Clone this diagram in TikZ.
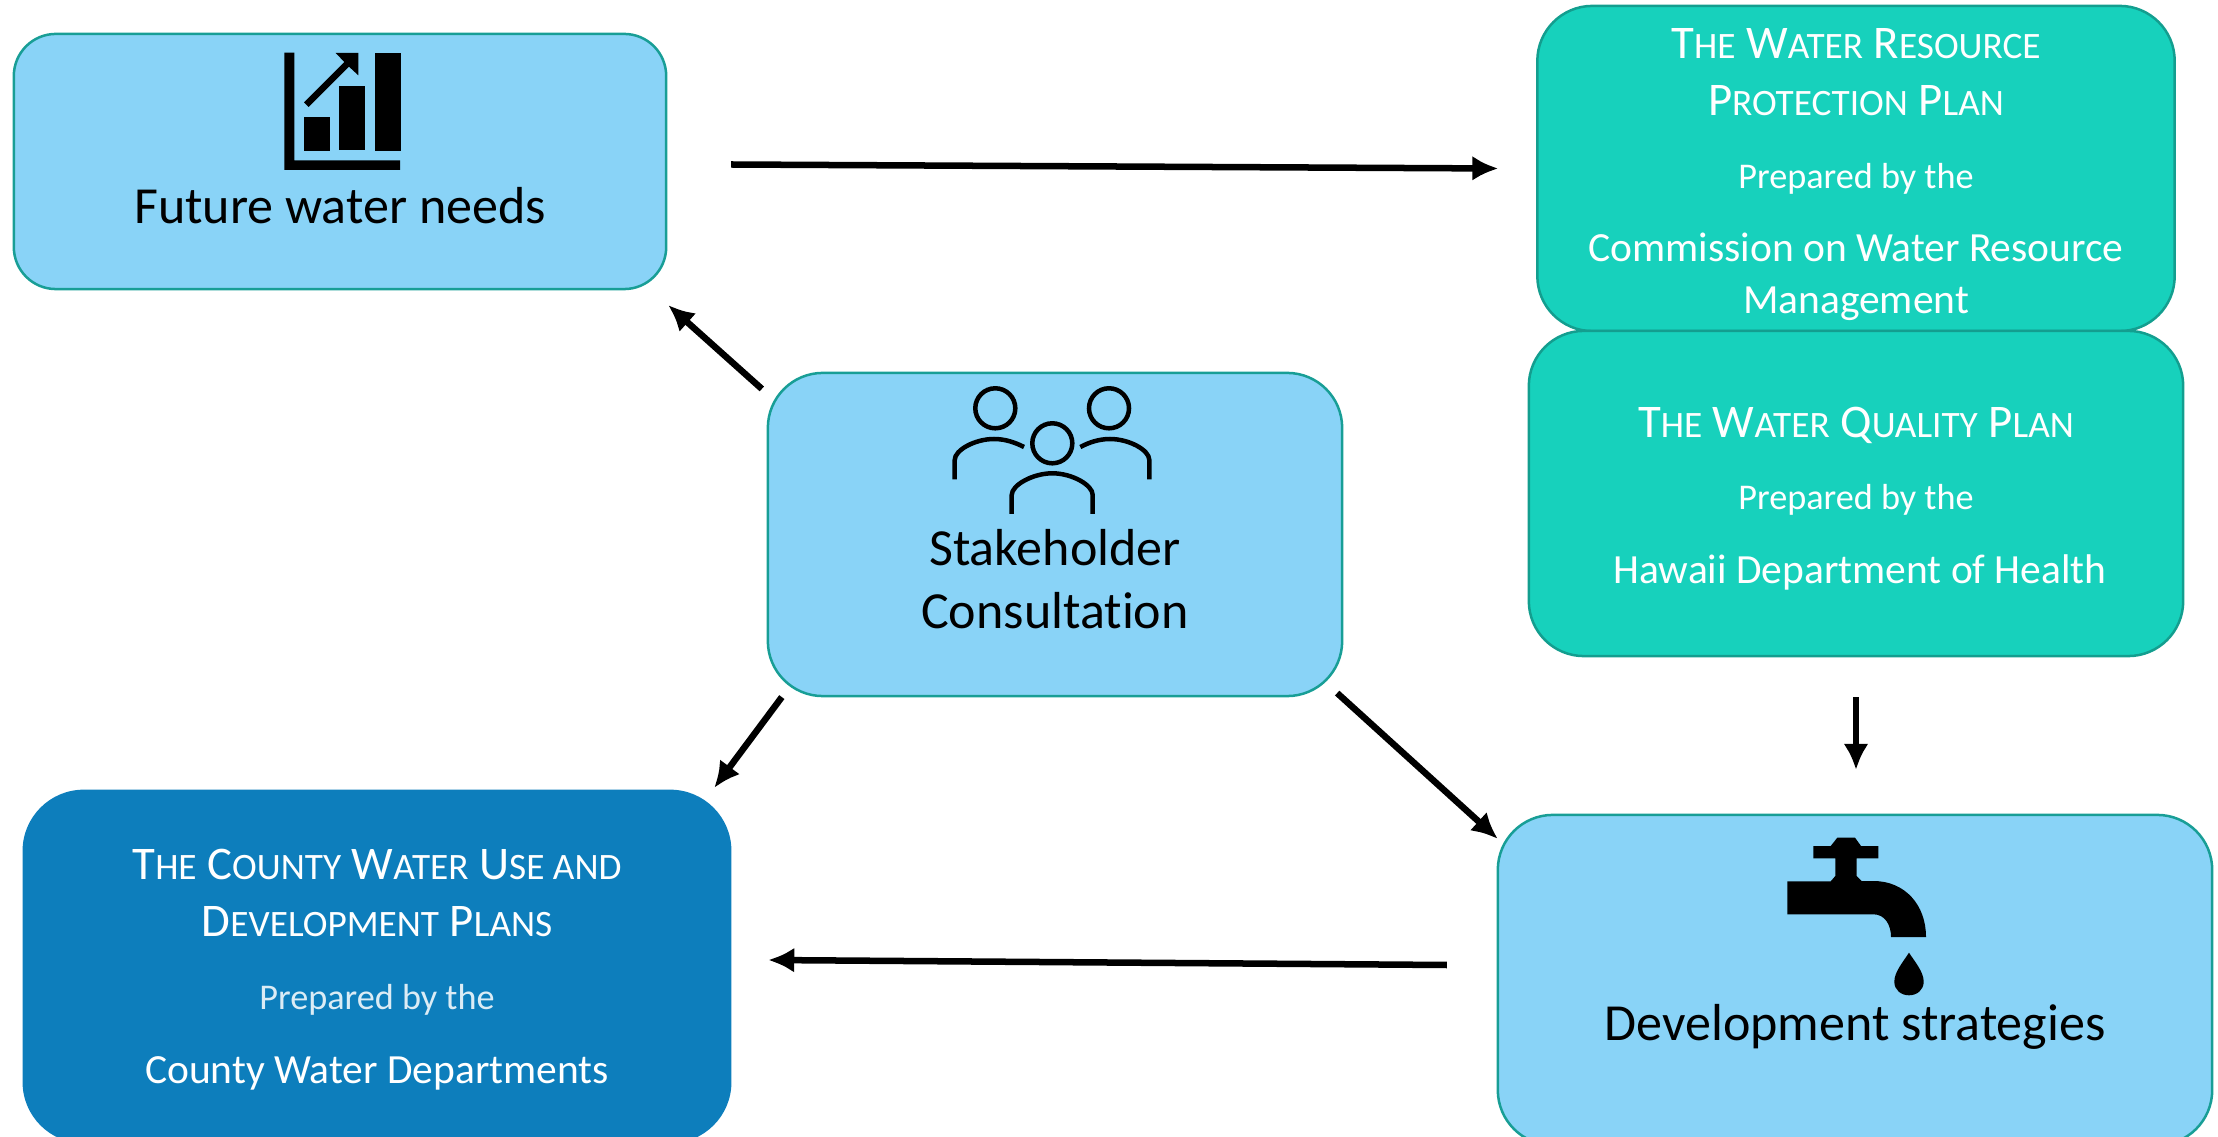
\documentclass[tikz,border=0pt]{standalone}
\usepackage{fontspec}
\setmainfont{Carlito}[Ligatures=NoCommon]
\usetikzlibrary{arrows.meta}

\definecolor{skyfill}{RGB}{137,211,247}
\definecolor{skyline}{RGB}{24,158,150}
\definecolor{planfill}{RGB}{23,209,188}
\definecolor{planline}{RGB}{19,158,143}
\definecolor{countyfill}{RGB}{13,126,188}

% Small capitals, set by hand.
\newcommand{\smc}[1]{{\fontsize{10.6pt}{0.57cm}\selectfont #1}}
\newcommand{\prepfont}{\fontsize{10.3pt}{0.57cm}\selectfont}
\newcommand{\ownerfont}{\fontsize{11.8pt}{0.57cm}\selectfont}

\tikzset{
    box/.style = {
        rounded corners = 0.55cm,
        inner sep = 0pt,
        outer sep = 0pt,
        align = center,
        line width = 0.025cm
    },
    skybox/.style = {
        box,
        draw = skyline,
        fill = skyfill,
        text = black,
        font = \fontsize{14.8pt}{0.63cm}\selectfont
    },
    planbox/.style = {
        box,
        draw = planline,
        fill = planfill,
        text = white,
        font = \fontsize{13.3pt}{0.57cm}\selectfont
    },
    countybox/.style = {
        planbox,
        draw = countyfill,
        fill = countyfill
    },
    flow/.style = {
        ->,
        line width = 0.065cm
    },
    icon/.style = {
        fill = black,
        draw = none
    },
    iconline/.style = {
        line width = 0.045cm
    }
}

\begin{document}
\begin{tikzpicture}[%
        > = {Latex[length=0.26cm, width=0.25cm]},
        x = 0.01cm,
        y = -0.01cm
    ]

        \useasboundingbox (0, 0) rectangle (2218, 1137);

        % The three blue boxes.
        \node[skybox, minimum width = 6.52cm, minimum height = 2.55cm,
            rounded corners = 0.42cm] (future) at (340, 161.5)
            {\rule{0pt}{1.24cm}Future water needs};
        \node[skybox, minimum width = 5.74cm, minimum height = 3.23cm] (stake) at (1055, 534.5)
            {\rule{0pt}{1.26cm}Stakeholder\\Consultation};
        \node[skybox, minimum width = 7.14cm, minimum height = 3.30cm] (dev) at (1855, 980)
            {\rule{0pt}{1.30cm}Development strategies};

        % The two plans on the right, one against the other.
        \node[planbox, minimum width = 6.37cm, minimum height = 3.25cm] (resource) at (1856, 168.5)
            {\rule{0pt}{0.42cm}T\smc{HE} W\smc{ATER} R\smc{ESOURCE}\\
            P\smc{ROTECTION} P\smc{LAN}\\[0.16cm]
            {\prepfont Prepared by the}\\[0.16cm]
            {\ownerfont Commission on Water Resource}\\[-0.06cm]
            {\ownerfont Management}};
        \node[planbox, minimum width = 6.54cm, minimum height = 3.25cm] (quality) at (1856, 493.5)
            {\rule{0pt}{0.41cm}T\smc{HE} W\smc{ATER} Q\smc{UALITY} P\smc{LAN}\\[0.15cm]
            {\prepfont Prepared by the}\\[0.17cm]
            {\ownerfont\hspace{0.08cm}Hawaii Department of Health}};

        % The county plan.
        \node[countybox, minimum width = 7.06cm, minimum height = 3.51cm,
            rounded corners = 0.6cm] (county) at (377, 966.5)
            {\rule{0pt}{0.37cm}T\smc{HE} C\smc{OUNTY} W\smc{ATER} U\smc{SE AND}\\
            D\smc{EVELOPMENT} P\smc{LANS}\\[0.16cm]
            {\prepfont\color{white!85!countyfill}Prepared by the}\\[0.17cm]
            {\ownerfont County Water Departments}};

        % Connect the boxes.
        \draw[flow] ([shift={(65, 3)}]future.east) to ([shift={(-39, 0)}]resource.west);
        \draw[flow] ([shift={(-6, 16)}]stake.north west) to ([shift={(2, 16)}]future.south east);
        \draw[flow] ([shift={(14, 1)}]stake.south west) to ([shift={(-16, -3)}]county.north east);
        \draw[flow] ([shift={(-5, -3)}]stake.south east) to ([shift={(0, 24)}]dev.north west);
        \draw[flow] ([shift={(0, 41)}]quality.south) to ([shift={(1, -45)}]dev.north);
        \draw[flow] ([shift={(-51, -15)}]dev.west) to ([shift={(38, -6.5)}]county.east);

        % Bar chart icon.
        \fill[icon] (284.3, 52.7) -- (294.3, 52.7) -- (294.3, 160.3) -- (400, 160.3)
            -- (400, 170) -- (284.3, 170) -- cycle;
        \fill[icon] (304, 117) rectangle (330, 150.7);
        \fill[icon] (339, 86) rectangle (365, 150);
        \fill[icon] (375, 53) rectangle (401, 150.7);
        \fill[icon] (304, 102.3) -- (308.7, 107) -- (349, 66.7) -- (358.3, 75.3) -- (358.3, 53)
            -- (335.7, 53) -- (344.3, 62) -- cycle;

        % People icon.
        \draw[iconline] (995.3, 408.3) circle (0.2cm);
        \draw[iconline] (1109, 408.3) circle (0.2cm);
        \draw[iconline] (1052.3, 443.3) circle (0.2cm);
        \draw[iconline] (954.7, 479.3) -- (954.7, 460)
            .. controls (954.7, 450) and (975, 439) .. (994, 439)
            .. controls (1006, 439) and (1016, 443) .. (1024, 447);
        \draw[iconline] (1149.3, 479.3) -- (1149.3, 460)
            .. controls (1149.3, 450) and (1129, 439) .. (1110, 439)
            .. controls (1098, 439) and (1088, 443) .. (1080.3, 447);
        \draw[iconline] (1011.7, 514) -- (1011.7, 495)
            .. controls (1011.7, 485) and (1033, 473.3) .. (1052.3, 473.3)
            .. controls (1072, 473.3) and (1092.7, 485) .. (1092.7, 495) -- (1092.7, 514);

        % Tap icon and its drop.
        \fill[icon] (1813.3, 846) -- (1830.7, 846) -- (1837.3, 837.7) -- (1855, 837.7)
            -- (1861, 846) -- (1878.3, 846) -- (1878.3, 858.3) -- (1856.7, 858.3)
            -- (1856.7, 876) -- (1861.7, 881) -- (1873.3, 881)
            .. controls (1905, 881) and (1926, 905) .. (1926, 937) -- (1891, 937)
            .. controls (1891, 925) and (1885, 914.3) .. (1873.3, 914.3)
            -- (1787.3, 914.3) -- (1787.3, 881.3) -- (1830.7, 881.3) -- (1835.3, 876)
            -- (1835.3, 858.3) -- (1813.3, 858.3) -- cycle;
        \fill[icon] (1909, 952.7)
            .. controls (1903, 962) and (1894.3, 972) .. (1894.3, 981.7)
            .. controls (1894.3, 990) and (1901, 995.3) .. (1909, 995.3)
            .. controls (1917, 995.3) and (1923.7, 990) .. (1923.7, 981.7)
            .. controls (1923.7, 972) and (1915, 962) .. (1909, 952.7) -- cycle;
    \end{tikzpicture}
\end{document}
